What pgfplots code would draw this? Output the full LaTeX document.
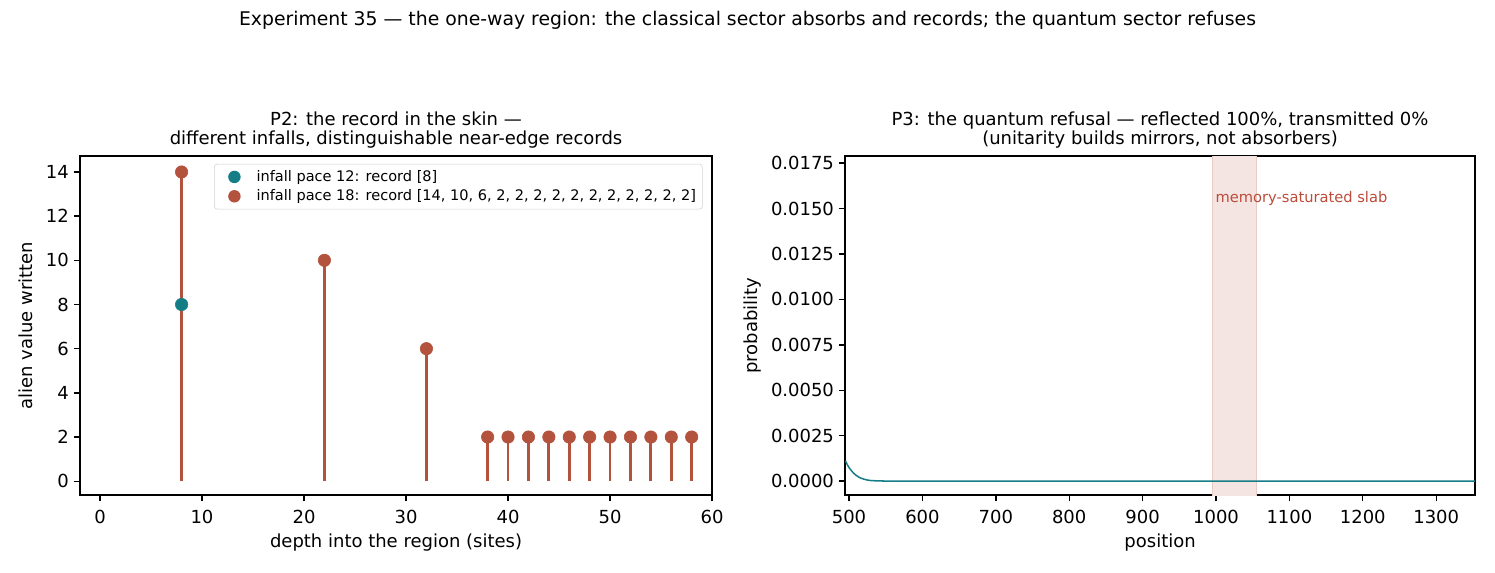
\documentclass[border=0pt]{standalone}
\usepackage{fontspec}
\setmainfont{DejaVu Sans}
\usepackage{pgfplots}
\pgfplotsset{compat=1.18}
\definecolor{teal2}{HTML}{147D86}
\definecolor{rust}{HTML}{B3533E}
\definecolor{slabtxt}{HTML}{BD4B3A}
\pgfplotsset{mystyle/.style={scale only axis, anchor=south west,
  tick align=outside, tick pos=left, major tick length=4.5pt,
  axis line style={line width=1pt},
  every tick/.style={black, line width=1pt},
  tick label style={font=\fontsize{13}{15}\selectfont},
  xticklabel style={yshift=-3pt},
  label style={font=\fontsize{13}{15}\selectfont},
  title style={font=\fontsize{13}{13.8}\selectfont, align=center, at={(0.5,1)}, anchor=south, yshift=-4pt},
  /pgf/number format/assume math mode=true,
  /pgf/number format/set thousands separator={}}}
\begin{document}
\begin{tikzpicture}[x=1pt,y=1pt]
\path[use as bounding box] (0,0) rectangle (1080.4,413.4);
\node[font=\fontsize{13.6}{16}\selectfont] at (540.2,398.9) {Experiment 35 — the one-way region: the classical sector absorbs and records; the quantum sector refuses};

\begin{axis}[mystyle, at={(57.8pt,55.6pt)}, width=456.8pt, height=245pt,
  xmin=-1.96, xmax=60, ymin=-0.63, ymax=14.72,
  xtick={0,10,...,60}, ytick={0,2,...,14},
  xlabel={depth into the region (sites)}, ylabel={alien value written},
  ylabel shift=3pt,
  title={P2: the record in the skin —\\different infalls, distinguishable near-edge records},
  legend style={at={(0.985,0.977)}, anchor=north east, font=\fontsize{10.5}{12}\selectfont, draw=black!18, rounded corners=2pt, row sep=0.5pt, inner sep=2.5pt},
  legend cell align=left]
\addlegendimage{legend image code/.code={\path[draw=none,fill=none] (0pt,-4pt) rectangle (26pt,4pt); \fill[teal2, draw=none] (12pt,0pt) circle (4.5pt);}}
\addlegendentry{infall pace 12: record [8]}
\addlegendimage{legend image code/.code={\path[draw=none,fill=none] (0pt,-4pt) rectangle (26pt,4pt); \fill[rust, draw=none] (12pt,0pt) circle (4.5pt);}}
\addlegendentry{infall pace 18: record [14, 10, 6, 2, 2, 2, 2, 2, 2, 2, 2, 2, 2, 2]}
\addplot[ycomb, teal2, line width=2pt, forget plot] coordinates {(8,8)};
\addplot[ycomb, rust, line width=2pt, forget plot] coordinates {
(8,14) (22,10) (32,6) (38,2) (40,2) (42,2) (44,2) (46,2) (48,2) (50,2) (52,2) (54,2) (56,2) (58,2)};
\addplot[only marks, mark=*, mark size=4.5pt, rust, forget plot] coordinates {
(8,14) (22,10) (32,6) (38,2) (40,2) (42,2) (44,2) (46,2) (48,2) (50,2) (52,2) (54,2) (56,2) (58,2)};
\addplot[only marks, mark=*, mark size=4.5pt, teal2, forget plot] coordinates {(8,8)};
\end{axis}

\begin{axis}[mystyle, at={(610.7pt,55.6pt)}, width=455.3pt, height=245pt,
  xmin=494.6, xmax=1353, ymin=-0.00077, ymax=0.01789,
  xtick={500,600,...,1300},
  ytick={0,0.0025,0.005,0.0075,0.01,0.0125,0.015,0.0175},
  scaled y ticks=false,
  yticklabel style={/pgf/number format/fixed, /pgf/number format/fixed zerofill, /pgf/number format/precision=4},
  xlabel={position}, ylabel={probability},
  title={P3: the quantum refusal — reflected 100\%, transmitted 0\%\\(unitarity builds mirrors, not absorbers)}]
\addplot[fill=rust!15, draw=rust!30, line width=0.8pt] coordinates {(995,-0.001) (1055,-0.001) (1055,0.02) (995,0.02)} -- cycle;
\addplot[teal2, line width=1.1pt] coordinates {
(495,0.00112) (498,0.00088) (501,0.00069) (504,0.00054) (507,0.00041) (510,0.00031) (513,0.00023) (516,0.00017) (520,0.00011) (525,0.00006) (530,0.00003) (540,0.00001) (555,0.000002) (580,0) (1353,0)};
\node[anchor=west, font=\fontsize{10.6}{12}\selectfont, text=slabtxt, inner sep=0pt] at (axis cs:999,0.01557) {memory-saturated slab};
\end{axis}
\end{tikzpicture}
\end{document}
